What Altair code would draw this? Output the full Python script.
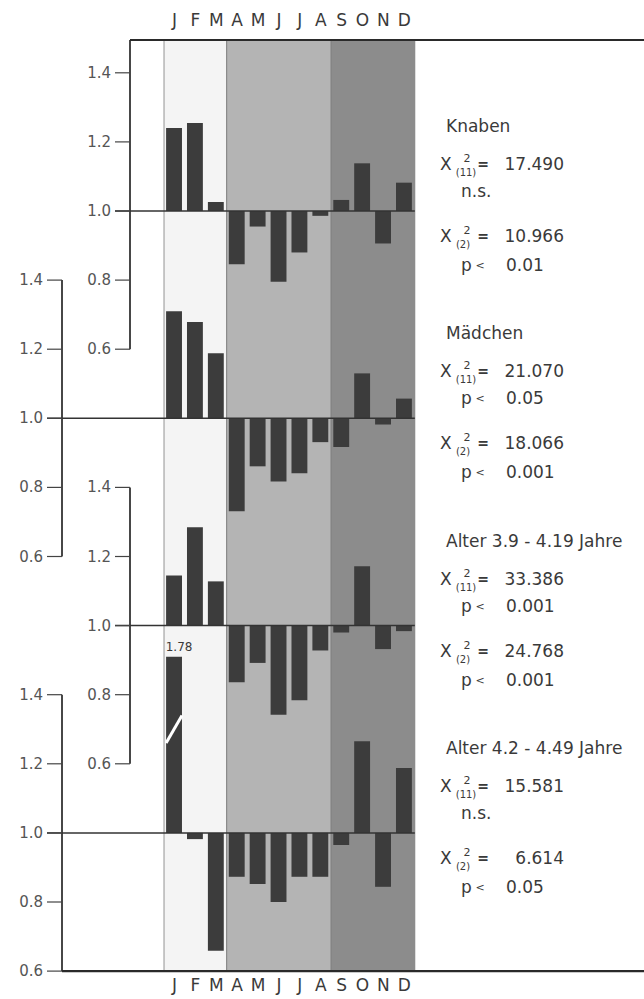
import altair as alt
import pandas as pd

# ---------------- data ----------------
months = ["J", "F", "M", "A", "M", "J", "J", "A", "S", "O", "N", "D"]
series_names = ["Knaben", "Mädchen", "Alter 3.9 - 4.19 Jahre", "Alter 4.2 - 4.49 Jahre"]
knaben = [1.24, 1.255, 1.026, 0.846, 0.955, 0.795, 0.88, 0.986, 1.032, 1.138, 0.906, 1.082]
maedchen = [1.31, 1.279, 1.188, 0.731, 0.861, 0.817, 0.841, 0.931, 0.917, 1.13, 0.982, 1.057]
alter_39 = [1.145, 1.285, 1.128, 0.836, 0.892, 0.742, 0.784, 0.928, 0.98, 1.172, 0.932, 0.984]
alter_42 = [1.78, 0.982, 0.659, 0.873, 0.852, 0.80, 0.873, 0.873, 0.965, 1.265, 0.844, 1.188]
series_values = [knaben, maedchen, alter_39, alter_42]
chi11 = ["17.490", "21.070", "33.386", "15.581"]
sig11 = ["n.s.", "0.05", "0.001", "n.s."]
chi2 = ["10.966", "18.066", "24.768", "6.614"]
sig2 = ["0.01", "0.001", "0.001", "0.05"]
tick_values = [1.4, 1.2, 1.0, 0.8, 0.6]
tick_labels = ["1.4", "1.2", "1.0", "0.8", "0.6"]
season_start = [0, 3, 8]
season_end = [3, 8, 12]
season_fill = ["#f4f4f4", "#b4b4b4", "#8c8c8c"]

# ---------------- layout ----------------
W, H = 644, 999
PX0, PXM = 164.0, 20.9      # pixel of month 0 start, pixels per month
PY0, PYU = 211.0, 345.5     # pixel of first baseline, pixels per unit
STEP = 0.6                  # vertical offset between panels (units)
CAP = 1.51                  # display cap for the broken bar
AXIS_PX = [130, 62, 130, 62]
TICK_PX = 15
INK = "#3a3a3a"
FONT = "DejaVu Sans"


def mx(px):
    return (px - PX0) / PXM


def my(py):
    return (PY0 - py) / PYU


def off(px):
    return -px / PYU


def py_(k, v):
    return (v - 1.0) - STEP * k


XS = alt.Scale(domain=[mx(0), mx(W)], nice=False, zero=False)
YS = alt.Scale(domain=[my(H), my(0)], nice=False, zero=False)
FRAME_TOP = my(40)
FRAME_BOT = py_(3, 0.6)


def xe(f="x"):
    return alt.X(f + ":Q", scale=XS, axis=None)


def ye(f="y"):
    return alt.Y(f + ":Q", scale=YS, axis=None)


# bands
bands = pd.DataFrame({"x": season_start, "x2": season_end, "fill": season_fill,
                      "y": [FRAME_TOP] * 3, "y2": [FRAME_BOT] * 3})
band_layer = alt.Chart(bands).mark_rect(stroke="#7a7a7a", strokeWidth=0.8).encode(
    x=xe(), x2="x2:Q", y=ye(), y2="y2:Q", color=alt.Color("fill:N", scale=None))

# bars
bar_rows = []
for k, vals in enumerate(series_values):
    for i, v in enumerate(vals):
        bar_rows.append({"x": i + 0.1, "x2": i + 0.86, "y": py_(k, 1.0),
                         "y2": py_(k, min(v, CAP))})
bar_layer = alt.Chart(pd.DataFrame(bar_rows)).mark_rect(color="#3c3c3c").encode(
    x=xe(), x2="x2:Q", y=ye(), y2="y2:Q")

# baselines
base_rows = [{"x": mx(AXIS_PX[k] - TICK_PX), "x2": 12, "y": py_(k, 1.0)} for k in range(4)]
base_layer = alt.Chart(pd.DataFrame(base_rows)).mark_rule(color="#333", strokeWidth=1.5).encode(
    x=xe(), x2="x2:Q", y=ye())

# axis lines
ax_rows = []
for k in range(4):
    top = FRAME_TOP if k == 0 else py_(k, 1.4)
    ax_rows.append({"x": mx(AXIS_PX[k]), "y": top, "y2": py_(k, 0.6)})
ax_layer = alt.Chart(pd.DataFrame(ax_rows)).mark_rule(color="#333", strokeWidth=1.8).encode(
    x=xe(), y=ye(), y2="y2:Q")

# ticks and labels
tick_rows = []
for k in range(4):
    for t, lab in zip(tick_values, tick_labels):
        tick_rows.append({"x": mx(AXIS_PX[k] - TICK_PX), "x2": mx(AXIS_PX[k]),
                          "lx": mx(AXIS_PX[k] - TICK_PX - 4), "y": py_(k, t), "t": lab})
ticks_df = pd.DataFrame(tick_rows)
tick_layer = alt.Chart(ticks_df).mark_rule(color="#444", strokeWidth=1.2).encode(
    x=xe(), x2="x2:Q", y=ye())
tick_text = alt.Chart(ticks_df).mark_text(align="right", baseline="middle", font=FONT,
                                          fontSize=15, color="#555").encode(
    x=xe("lx"), y=ye(), text="t:N")

# frame lines
frame = pd.DataFrame({"x": [mx(130), mx(62)], "x2": [mx(W), mx(W)],
                      "y": [FRAME_TOP, FRAME_BOT]})
frame_layer = alt.Chart(frame).mark_rule(color="#2a2a2a", strokeWidth=2.2).encode(
    x=xe(), x2="x2:Q", y=ye())

# month labels
mrows = []
for i, m in enumerate(months):
    mrows.append({"x": i + 0.5, "y": my(21), "t": m})
    mrows.append({"x": i + 0.5, "y": my(986), "t": m})
month_layer = alt.Chart(pd.DataFrame(mrows)).mark_text(
    align="center", baseline="middle", font=FONT, fontSize=17, color=INK).encode(
    x=xe(), y=ye(), text="t:N")

# right-hand statistics
heads, chis, sups, subs, eqs, vals_, ps, lts, pvals = [], [], [], [], [], [], [], [], []
for k in range(4):
    b = py_(k, 1.0)
    heads.append({"x": mx(446), "y": b + off(-84), "t": series_names[k]})
    for line_off, sub, sub_x, val, sig, sig_off in [
            (-46, "(11)", 466, chi11[k], sig11[k], -19),
            (26, "(2)", 463, chi2[k], sig2[k], 55)]:
        yy = b + off(line_off)
        chis.append({"x": mx(440), "y": yy, "t": "Χ"})
        sups.append({"x": mx(467), "y": yy, "t": "2"})
        subs.append({"x": mx(sub_x), "y": yy, "t": sub})
        eqs.append({"x": mx(483), "y": yy, "t": "="})
        vals_.append({"x": mx(564), "y": yy, "t": val})
        ys = b + off(sig_off)
        if sig == "n.s.":
            ps.append({"x": mx(461), "y": ys, "t": "n.s."})
        else:
            ps.append({"x": mx(461), "y": ys, "t": "p"})
            lts.append({"x": mx(480), "y": ys, "t": "<"})
            pvals.append({"x": mx(506), "y": ys, "t": sig})


def txt(rows, **kw):
    return alt.Chart(pd.DataFrame(rows)).mark_text(baseline="middle", font=FONT,
                                                   color=INK, **kw).encode(
        x=xe(), y=ye(), text="t:N")


text_layers = [
    txt(heads, align="left", fontSize=17),
    txt(chis, align="left", fontSize=17),
    txt(sups, align="center", fontSize=11, dy=-6),
    txt(subs, align="center", fontSize=10, dy=8),
    txt(eqs, align="center", fontSize=14, fontWeight="bold"),
    txt(vals_, align="right", fontSize=17),
    txt(ps, align="left", fontSize=17),
    txt(lts, align="center", fontSize=11),
    txt(pvals, align="left", fontSize=17),
]

# broken bar marker and its true value
brk = pd.DataFrame({"x": [0.1], "x2": [0.86], "y": [py_(3, 1.26)], "y2": [py_(3, 1.34)]})
brk_layer = alt.Chart(brk).mark_rule(color="white", strokeWidth=3).encode(
    x=xe(), x2="x2:Q", y=ye(), y2="y2:Q")
lbl = pd.DataFrame({"x": [0.72], "y": [py_(3, CAP)], "t": [f"{alter_42[0]:.2f}"]})
lbl_layer = alt.Chart(lbl).mark_text(align="center", baseline="bottom", font=FONT,
                                     fontSize=12, color=INK, dy=-3).encode(
    x=xe(), y=ye(), text="t:N")

chart = alt.layer(
    band_layer, bar_layer, base_layer, ax_layer, tick_layer, tick_text, frame_layer,
    month_layer, *text_layers, brk_layer, lbl_layer
).properties(
    width=W, height=H, autosize=alt.AutoSizeParams(type="none"), padding=0,
    background="white"
).configure_view(strokeWidth=0)

chart.save("out.html", embed_options={"renderer": "svg", "actions": False})
